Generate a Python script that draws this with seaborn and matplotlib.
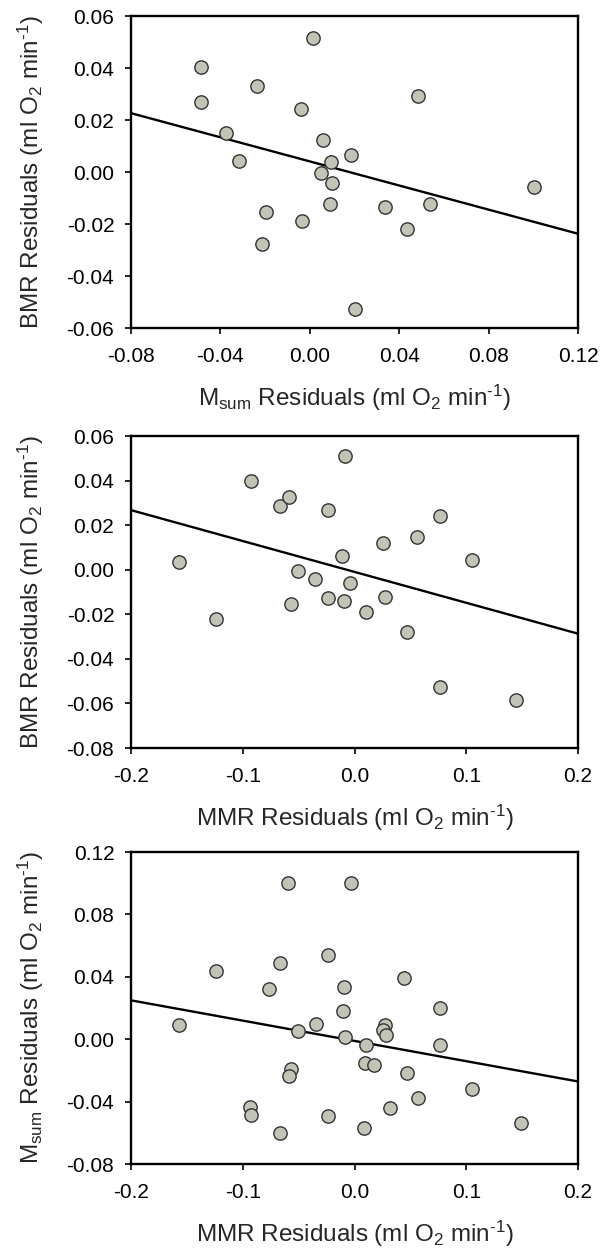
import numpy as np
import pandas as pd
import matplotlib
matplotlib.use("Agg")
import matplotlib.pyplot as plt
import seaborn as sns
from matplotlib.ticker import FormatStrFormatter

# ---------------- data ----------------
# Panel 1: Msum residuals vs BMR residuals
p1_msum = [-0.0485, -0.0489, -0.0236, 0.0015, -0.0040, -0.0377, -0.0319, 0.0057,
           0.0097, 0.0052, 0.0098, 0.0091, -0.0197, -0.0036, -0.0213, 0.0183,
           0.0201, 0.0486, 0.0337, 0.0540, 0.0437, 0.1002]
p1_bmr = [0.0403, 0.0269, 0.0329, 0.0514, 0.0242, 0.0150, 0.0043, 0.0122,
          0.0037, -0.0004, -0.0041, -0.0122, -0.0154, -0.0190, -0.0277, 0.0064,
          -0.0528, 0.0293, -0.0135, -0.0122, -0.0218, -0.0057]

# Panel 2: MMR residuals vs BMR residuals
p2_mmr = [-0.1567, -0.1238, -0.0925, -0.0668, -0.0585, -0.0238, -0.0083, -0.0110,
          -0.0510, -0.0349, -0.0569, -0.0235, -0.0095, -0.0036, 0.0765, 0.0561,
          0.0254, 0.1051, 0.0272, 0.0102, 0.0466, 0.0761, 0.1448]
p2_bmr = [0.0034, -0.0221, 0.0400, 0.0288, 0.0326, 0.0267, 0.0511, 0.0061,
          -0.0006, -0.0043, -0.0154, -0.0127, -0.0139, -0.0058, 0.0240, 0.0148,
          0.0118, 0.0043, -0.0121, -0.0191, -0.0278, -0.0528, -0.0584]

# Panel 3: MMR residuals vs Msum residuals
p3_mmr = [-0.1568, -0.1238, -0.0764, -0.0665, -0.0591, -0.0233, -0.0096, -0.0101,
          -0.0343, -0.0508, -0.0084, -0.0567, -0.0585, -0.0934, -0.0922, -0.0671,
          -0.0238, -0.0030, 0.0445, 0.0765, 0.0272, 0.0251, 0.0278, 0.0102,
          0.0765, 0.0093, 0.0174, 0.0466, 0.1051, 0.0564, 0.0320, 0.0081, 0.1490]
p3_msum = [0.0094, 0.0435, 0.0325, 0.0486, 0.1004, 0.0539, 0.0336, 0.0182,
           0.0096, 0.0051, 0.0013, -0.0194, -0.0237, -0.0436, -0.0488, -0.0603,
           -0.0492, 0.1004, 0.0390, 0.0203, 0.0094, 0.0056, 0.0028, -0.0036,
           -0.0039, -0.0150, -0.0165, -0.0216, -0.0321, -0.0379, -0.0441, -0.0571, -0.0537]

p1_xticks = [-0.08, -0.04, 0.00, 0.04, 0.08, 0.12]
p1_yticks = [-0.06, -0.04, -0.02, 0.00, 0.02, 0.04, 0.06]
p2_xticks = [-0.2, -0.1, 0.0, 0.1, 0.2]
p2_yticks = [-0.08, -0.06, -0.04, -0.02, 0.00, 0.02, 0.04, 0.06]
p3_xticks = [-0.2, -0.1, 0.0, 0.1, 0.2]
p3_yticks = [-0.08, -0.04, 0.00, 0.04, 0.08, 0.12]

UNIT = r" (ml O$_2$ min$^{\text{-1}}$)"
lab_msum = r"M$_{\text{sum}}$ Residuals" + UNIT
lab_bmr = "BMR Residuals" + UNIT
lab_mmr = "MMR Residuals" + UNIT

# ---------------- style ----------------
sns.set_theme(style="ticks")
plt.rcParams['font.family'] = ['Liberation Sans', 'DejaVu Sans']
plt.rcParams['mathtext.fontset'] = 'custom'
plt.rcParams['mathtext.rm'] = 'Liberation Sans'
plt.rcParams['mathtext.it'] = 'Liberation Sans:italic'
plt.rcParams['mathtext.bf'] = 'Liberation Sans:bold'

fig = plt.figure(figsize=(6.08, 12.52), dpi=100)
W, H = 608, 1252
left_px, right_px = 131, 578
panels = [
    (16, 328, p1_msum, p1_bmr, p1_xticks, p1_yticks, "%.2f", "%.2f", lab_msum, lab_bmr),
    (436, 748, p2_mmr, p2_bmr, p2_xticks, p2_yticks, "%.1f", "%.2f", lab_mmr, lab_bmr),
    (852, 1164, p3_mmr, p3_msum, p3_xticks, p3_yticks, "%.1f", "%.2f", lab_mmr, lab_msum),
]

for top, bot, xs, ys, xt, yt, xfmt, yfmt, xlabel, ylabel in panels:
    ax = fig.add_axes([left_px / W, 1 - bot / H, (right_px - left_px) / W, (bot - top) / H])
    ax.set_xlim(xt[0], xt[-1])
    ax.set_ylim(yt[0], yt[-1])
    df = pd.DataFrame({"x": xs, "y": ys})
    sns.regplot(data=df, x="x", y="y", ax=ax, ci=None, truncate=False,
                scatter_kws=dict(s=92, color="#c3c3b6", edgecolors="#333333",
                                 linewidths=1.0, alpha=1, zorder=3),
                line_kws=dict(color="black", lw=1.7, zorder=2))
    ax.set_xlim(xt[0], xt[-1])
    ax.set_ylim(yt[0], yt[-1])
    ax.set_xticks(xt)
    ax.set_yticks(yt)
    ax.xaxis.set_major_formatter(FormatStrFormatter(xfmt))
    ax.yaxis.set_major_formatter(FormatStrFormatter(yfmt))
    for sp in ax.spines.values():
        sp.set_linewidth(1.7)
        sp.set_color("black")
        sp.set_visible(True)
    ax.tick_params(axis="both", direction="out", length=4, width=1.2,
                   labelsize=15, colors="black")
    ax.tick_params(axis="y", pad=8)
    ax.tick_params(axis="x", pad=10)
    ax.set_xlabel(xlabel, fontsize=17.5, labelpad=12)
    ax.set_ylabel(ylabel, fontsize=17.5, labelpad=15)

fig.savefig("out.png", dpi=100)
